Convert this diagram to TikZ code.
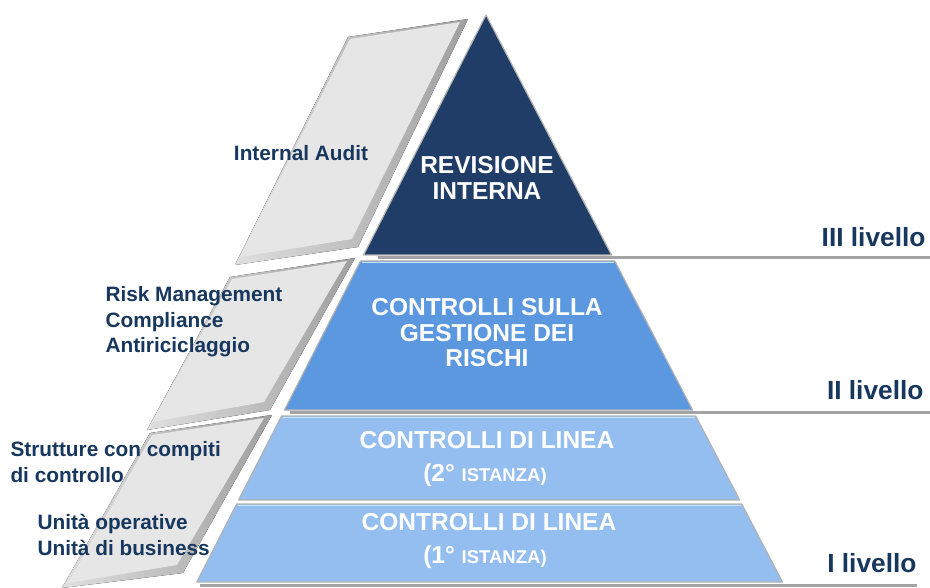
\documentclass[tikz,border=0pt]{standalone}
\usepackage{fontspec}
\setmainfont{Liberation Sans}
\usetikzlibrary{positioning}

\definecolor{navy}{HTML}{1F3D66}
\definecolor{midblue}{HTML}{5B98E0}
\definecolor{lightblue}{HTML}{95BEF0}
\definecolor{textnavy}{HTML}{17375E}
\definecolor{panelface}{HTML}{E6E6E6}
\definecolor{rulegray}{HTML}{A3A3A3}
\definecolor{glow}{HTML}{C8E4FA}

\begin{document}
\begin{tikzpicture}[x=1pt, y=-1pt,
    face/.style={fill=panelface},
    bevel/.style={left color=gray!25, right color=gray!75},
    band/.style={draw=gray!60, line width=1.2pt, line join=round},
    rule/.style={draw=rulegray, line width=3.5pt},
    inner/.style={text=white, font=\fontsize{24.5}{25.5}\selectfont\bfseries, align=center},
    side/.style={text=textnavy, font=\fontsize{20.8}{25.5}\selectfont\bfseries, align=left},
    level/.style={text=textnavy, font=\fontsize{26.3}{28}\selectfont\bfseries, anchor=east}]
    \useasboundingbox (0,0) rectangle (930,588);

    % left panels
    \fill[bevel] (348,37) -- (468,19) -- (358,247) -- (235,265) -- cycle;
    \fill[face] (350,39) -- (460,22) -- (352,239) -- (240,257) -- cycle;
    \fill[bevel] (230,277) -- (355,258) -- (270,410) -- (147,430) -- cycle;
    \fill[face] (232,279) -- (347,261) -- (264,402) -- (152,422) -- cycle;
    \fill[bevel] (150,433) -- (272,415) -- (183,573) -- (62,588) -- cycle;
    \fill[face] (152,435) -- (264,418) -- (177,565) -- (68,583) -- cycle;

    % pyramid
    \filldraw[band, fill=navy] (486,15) -- (611.5,255) -- (363.6,255) -- cycle;
    \filldraw[band, fill=midblue] (360.5,261) -- (614.7,261) -- (692.6,410) -- (284.5,410) -- cycle;
    \filldraw[band, fill=lightblue] (281.5,416) -- (695.7,416) -- (739.7,500) -- (238.6,500) -- cycle;
    \filldraw[band, fill=lightblue] (236.6,504) -- (741.7,504) -- (782.5,582) -- (196.8,582) -- cycle;
    \draw[glow, line width=1pt] (362,262.5) -- (614,262.5);
    \draw[glow, line width=1pt] (283,417.5) -- (695,417.5);
    \draw[glow, line width=1pt] (238,505.5) -- (741,505.5);

    % level rules
    \coordinate (r3a) at (378,257.5);
    \coordinate (r3b) at (930,257.5);
    \coordinate (r2a) at (290,412.5);
    \coordinate (r2b) at (930,412.5);
    \coordinate (r1a) at (200,585.5);
    \coordinate (r1b) at (917,585.5);
    \draw[rule] (r3a) -- (r3b);
    \draw[rule] (r2a) -- (r2b);
    \draw[rule] (r1a) -- (r1b);

    % pyramid texts
    \node[inner] (revisione) at (487,178) {REVISIONE\\INTERNA};
    \node[inner] (gestione) at (487,333) {CONTROLLI SULLA\\GESTIONE DEI\\RISCHI};
    \node[inner] (linea2) at (487,440) {CONTROLLI DI LINEA};
    \node[inner] (istanza2) at (485,475) {(2° {\fontsize{18.5}{20}\selectfont ISTANZA)}};
    \node[inner] (linea1) at (489,522) {CONTROLLI DI LINEA};
    \node[inner] (istanza1) at (485,557) {(1° {\fontsize{18.5}{20}\selectfont ISTANZA)}};

    % side texts
    \node[side] (audit) at (301,153) {Internal Audit};
    \node[side, anchor=west] (risk) at (102,322) {Risk Management\\Compliance\\Antiriciclaggio};
    \node[side, anchor=west] (strutture) at (7,462) {Strutture con compiti\\di controllo};
    \node[side, anchor=west] (unita) at (34,535) {Unità operative\\Unità di business};

    % levels
    \node[level] (liv3) at (929,237) {III livello};
    \node[level] (liv2) at (927,390) {II livello};
    \node[level] (liv1) at (920,563) {I livello};
\end{tikzpicture}
\end{document}
